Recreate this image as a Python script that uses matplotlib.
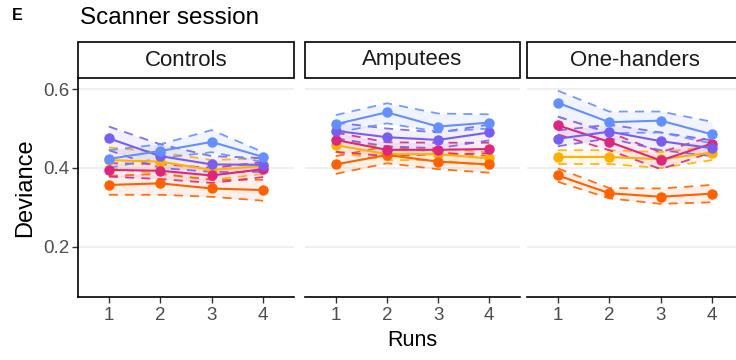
import matplotlib
matplotlib.use("Agg")
import matplotlib.pyplot as plt
from matplotlib.patches import Rectangle

plt.rcParams['font.family'] = ['Liberation Sans', 'DejaVu Sans']

runs = [1, 2, 3, 4]
groups = ["Controls", "Amputees", "One-handers"]
# drawing order: yellow first, blue last (on top)
colors = ["#FFB000", "#FE6100", "#DC267F", "#785EF0", "#648FFF"]

# mean deviance per run, one list per colour, per group
controls_mean = [[0.420, 0.416, 0.395, 0.405],
                 [0.357, 0.361, 0.348, 0.344],
                 [0.395, 0.393, 0.381, 0.397],
                 [0.475, 0.430, 0.409, 0.408],
                 [0.423, 0.443, 0.466, 0.428]]
controls_lo = [[0.400, 0.385, 0.370, 0.385],
               [0.332, 0.332, 0.327, 0.317],
               [0.378, 0.372, 0.362, 0.377],
               [0.445, 0.400, 0.390, 0.390],
               [0.400, 0.425, 0.440, 0.415]]
controls_hi = [[0.452, 0.440, 0.420, 0.425],
               [0.380, 0.385, 0.370, 0.370],
               [0.412, 0.410, 0.400, 0.415],
               [0.505, 0.460, 0.430, 0.425],
               [0.445, 0.460, 0.496, 0.440]]

amputees_mean = [[0.458, 0.435, 0.435, 0.424],
                 [0.409, 0.433, 0.416, 0.409],
                 [0.471, 0.446, 0.446, 0.448],
                 [0.494, 0.478, 0.471, 0.490],
                 [0.511, 0.541, 0.505, 0.515]]
amputees_lo = [[0.440, 0.420, 0.420, 0.405],
               [0.385, 0.412, 0.397, 0.388],
               [0.441, 0.430, 0.435, 0.437],
               [0.475, 0.455, 0.450, 0.470],
               [0.490, 0.513, 0.492, 0.500]]
amputees_hi = [[0.475, 0.450, 0.450, 0.440],
               [0.430, 0.455, 0.440, 0.430],
               [0.490, 0.465, 0.464, 0.464],
               [0.515, 0.500, 0.490, 0.510],
               [0.534, 0.564, 0.538, 0.536]]

onehand_mean = [[0.428, 0.428, 0.422, 0.439],
                [0.381, 0.336, 0.327, 0.335],
                [0.508, 0.466, 0.419, 0.462],
                [0.474, 0.492, 0.468, 0.450],
                [0.565, 0.516, 0.520, 0.485]]
onehand_lo = [[0.410, 0.410, 0.400, 0.420],
              [0.365, 0.323, 0.309, 0.313],
              [0.485, 0.445, 0.397, 0.440],
              [0.455, 0.475, 0.445, 0.430],
              [0.530, 0.488, 0.490, 0.462]]
onehand_hi = [[0.445, 0.445, 0.440, 0.455],
              [0.399, 0.349, 0.348, 0.357],
              [0.530, 0.490, 0.440, 0.480],
              [0.495, 0.510, 0.490, 0.470],
              [0.596, 0.543, 0.543, 0.517]]

means = [controls_mean, amputees_mean, onehand_mean]
lows = [controls_lo, amputees_lo, onehand_lo]
highs = [controls_hi, amputees_hi, onehand_hi]

W, H = 736, 360
fig = plt.figure(figsize=(W / 100, H / 100), dpi=100)

panel_x = [(78, 294), (305, 520), (527, 743)]
y_top, y_bot = 78, 297
strip_top = 42

for k, g in enumerate(groups):
    x0, x1 = panel_x[k]
    ax = fig.add_axes([x0 / W, 1 - y_bot / H, (x1 - x0) / W, (y_bot - y_top) / H])
    for i, c in enumerate(colors):
        m, lo, hi = means[k][i], lows[k][i], highs[k][i]
        ax.fill_between(runs, lo, hi, color=c, alpha=0.09, lw=0, zorder=1)
        ax.plot(runs, lo, color=c, lw=1.3, ls=(0, (5, 4)), alpha=0.9, zorder=2)
        ax.plot(runs, hi, color=c, lw=1.3, ls=(0, (5, 4)), alpha=0.9, zorder=2)
        ax.plot(runs, m, color=c, lw=1.5, marker='o', ms=6.5, zorder=3)
    ax.set_xlim(0.4, 4.6)
    ax.set_ylim(0.073, 0.628)
    ax.set_xticks(runs)
    ax.set_yticks([0.2, 0.4, 0.6])
    ax.yaxis.grid(True, color="#EBEBEB", lw=1.1)
    ax.set_axisbelow(True)
    for s in ["top", "right"]:
        ax.spines[s].set_visible(False)
    ax.spines["bottom"].set_linewidth(1.2)
    ax.spines["left"].set_linewidth(1.2)
    ax.tick_params(axis="x", colors="#333333", labelcolor="#4D4D4D", labelsize=13.5,
                   length=4, width=1, pad=3)
    if k == 0:
        ax.tick_params(axis="y", colors="#333333", labelcolor="#4D4D4D", labelsize=13.5,
                       length=4, width=1, pad=2)
        ax.set_yticklabels(["0.2", "0.4", "0.6"])
    else:
        ax.spines["left"].set_visible(False)
        ax.tick_params(axis="y", length=0, labelleft=False)
    # facet strip
    fig.patches.append(Rectangle((x0 / W, 1 - y_top / H), (x1 - x0) / W,
                                 (y_top - strip_top) / H, transform=fig.transFigure,
                                 facecolor="white", edgecolor="black", lw=1.2))
    fig.text((x0 + x1) / 2 / W, 1 - (y_top + strip_top) / 2 / H, g,
             ha="center", va="center", fontsize=16, color="#1A1A1A")

fig.text(12 / W, 1 - 16 / H, "E", fontsize=11.5, fontweight="bold", ha="left", va="center")
fig.text(80 / W, 1 - 18 / H, "Scanner session", fontsize=17.5, ha="left", va="center")
fig.text(25 / W, 1 - 188 / H, "Deviance", fontsize=17, rotation=90, ha="center", va="center")
fig.text(412 / W, 1 - 340 / H, "Runs", fontsize=15.5, ha="center", va="center")

fig.savefig("out.png", dpi=100)
